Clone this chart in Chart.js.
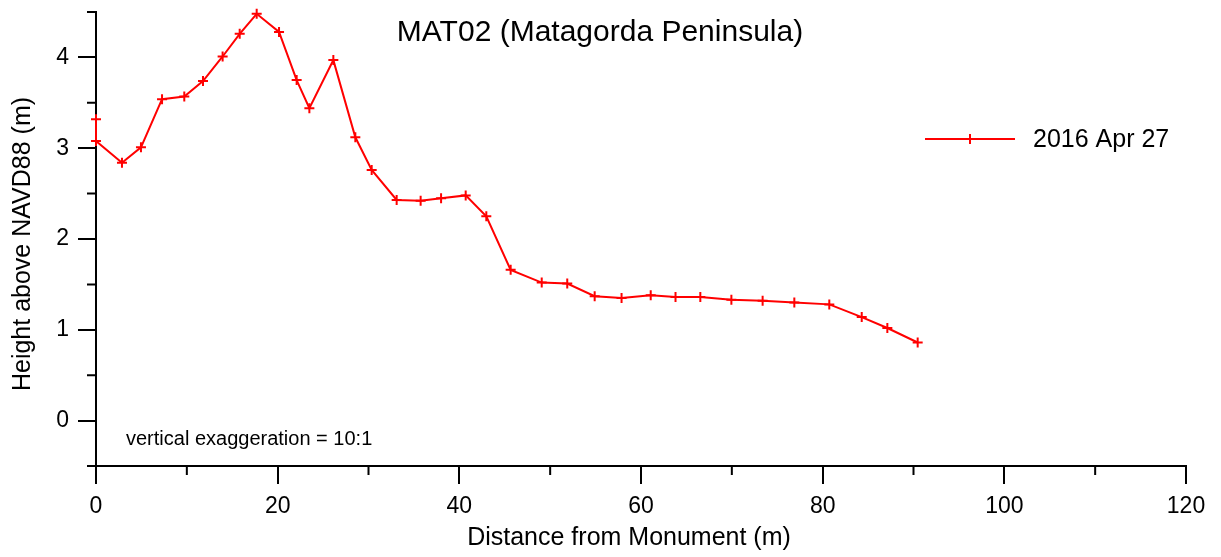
<!DOCTYPE html>
<html>
<head>
<meta charset="utf-8">
<title>MAT02 (Matagorda Peninsula)</title>
<script src="https://cdn.jsdelivr.net/npm/chart.js@4.4.1/dist/chart.umd.min.js"></script>
<style>
  html, body { margin: 0; padding: 0; background: #fff; }
  #wrap { width: 1221px; height: 557px; }
</style>
</head>
<body>
<div id="wrap"><canvas id="profile" width="1221" height="557"></canvas></div>
<script>
// ── Profile survey data ──
const distance = [0, 0, 2.86, 4.95, 7.27, 9.72, 11.78, 13.94, 15.82, 17.69, 20.15, 22.09,
  23.49, 26.13, 28.55, 30.35, 33.1, 35.74, 37.99, 40.7, 42.97, 45.65, 49.07, 51.88,
  54.9, 57.86, 61.07, 63.8, 66.53, 69.95, 73.39, 76.88, 80.73, 84.3, 87.12, 90.46];
const height = [3.32, 3.08, 2.84, 3.01, 3.54, 3.57, 3.74, 4.01, 4.26, 4.48, 4.28, 3.75,
  3.44, 3.97, 3.12, 2.76, 2.43, 2.42, 2.45, 2.48, 2.25, 1.66, 1.52, 1.51,
  1.37, 1.35, 1.38, 1.36, 1.36, 1.33, 1.32, 1.30, 1.28, 1.14, 1.02, 0.86];

const xTicks = [0, 20, 40, 60, 80, 100, 120];
const xMinor = [10, 30, 50, 70, 90, 110];
const yTicks = [0, 1, 2, 3, 4];
const yMinor = [-0.5, 0.5, 1.5, 2.5, 3.5, 4.5];

const surveyLabel = '2016 Apr 27';
const titleText = 'MAT02 (Matagorda Peninsula)';
const noteText = 'vertical exaggeration = 10:1';
const xTitle = 'Distance from Monument (m)';
const yTitle = 'Height above NAVD88 (m)';

const FONT = '"Liberation Sans", Arial, Helvetica, sans-serif';
const RED = '#ff0000';

// ── Minor ticks, titles, legend and note ──
const profileDecor = {
  id: 'profileDecor',
  afterDraw(chart) {
    const ctx = chart.ctx;
    const {x, y} = chart.scales;
    const area = chart.chartArea;
    ctx.save();
    ctx.strokeStyle = '#000';
    ctx.lineWidth = 2;
    ctx.beginPath();
    xMinor.forEach(v => {
      const px = x.getPixelForValue(v);
      ctx.moveTo(px, area.bottom); ctx.lineTo(px, area.bottom + 9);
    });
    yMinor.forEach(v => {
      const py = y.getPixelForValue(v);
      ctx.moveTo(area.left, py); ctx.lineTo(area.left - 9, py);
    });
    ctx.stroke();

    ctx.fillStyle = '#000';
    ctx.textBaseline = 'alphabetic';
    ctx.textAlign = 'center';
    ctx.font = '30px ' + FONT;
    ctx.fillText(titleText, 600, 41);

    ctx.font = '25px ' + FONT;
    ctx.fillText(xTitle, 629, 545);
    ctx.save();
    ctx.translate(30, 244);
    ctx.rotate(-Math.PI / 2);
    ctx.fillText(yTitle, 0, 0);
    ctx.restore();

    ctx.textAlign = 'left';
    ctx.font = '20px ' + FONT;
    ctx.fillText(noteText, 126, 445);

    // legend entry
    const ds = chart.data.datasets[0];
    ctx.strokeStyle = ds.borderColor;
    ctx.lineWidth = 2;
    ctx.beginPath();
    ctx.moveTo(925, 139); ctx.lineTo(1015, 139);
    ctx.stroke();
    Chart.helpers.drawPoint(ctx, {pointStyle: 'cross', radius: 5, borderWidth: 2}, 970, 139);
    ctx.fillStyle = '#000';
    ctx.textBaseline = 'middle';
    ctx.font = '25px ' + FONT;
    ctx.fillText(ds.label, 1033, 140);
    ctx.restore();
  }
};

const axisCommon = {
  type: 'linear',
  grid: {drawOnChartArea: false, drawTicks: true, tickLength: 18, color: '#000', lineWidth: 2},
  border: {display: true, color: '#000', width: 2},
  ticks: {color: '#000', font: {family: FONT, size: 23}, padding: 9, maxRotation: 0, autoSkip: false},
};

new Chart(document.getElementById('profile').getContext('2d'), {
  type: 'line',
  data: {
    datasets: [{
      label: surveyLabel,
      data: distance.map((d, i) => ({x: d, y: height[i]})),
      borderColor: RED,
      backgroundColor: RED,
      borderWidth: 2,
      pointStyle: 'cross',
      pointRadius: 5,
      pointBorderWidth: 2,
      pointBorderColor: RED,
      tension: 0,
      clip: false
    }]
  },
  options: {
    responsive: false,
    animation: false,
    devicePixelRatio: 1,
    layout: {padding: {top: 12, right: 35, bottom: 0, left: 0}},
    plugins: {legend: {display: false}, title: {display: false}, tooltip: {enabled: false}},
    scales: {
      x: {
        ...axisCommon,
        min: 0, max: 120,
        afterBuildTicks: s => { s.ticks = xTicks.map(v => ({value: v})); },
        afterFit: s => { s.height = 91; s.paddingLeft = 0; s.paddingRight = 0; }
      },
      y: {
        ...axisCommon,
        min: -0.5, max: 4.5,
        afterBuildTicks: s => { s.ticks = yTicks.map(v => ({value: v})); },
        afterFit: s => { s.width = 96; s.paddingTop = 0; s.paddingBottom = 0; }
      }
    }
  },
  plugins: [profileDecor]
});
</script>
</body>
</html>
